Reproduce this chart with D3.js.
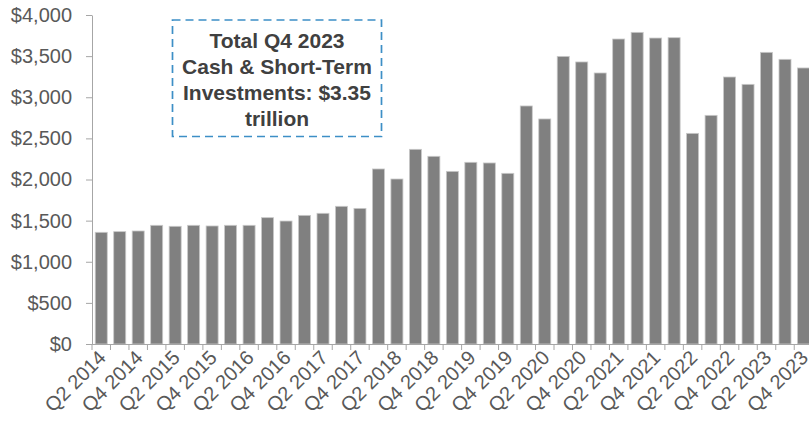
<!DOCTYPE html>
<html lang="en">
<head>
<meta charset="utf-8">
<style>
    html, body { margin:0; padding:0; overflow:hidden; background:#fff; }
    svg { display:block; font-family: "Liberation Sans", Arial, sans-serif; }
    .axis path, .axis line { stroke: #a6a6a6; }
    .axis text { fill: #595959; font-size: 20px; }
    .note { fill: #404040; font-size: 21px; font-weight: bold; }
</style>
</head>
<body>
<svg width="809" height="422"></svg>
<script src="https://d3js.org/d3.v7.min.js"></script>
<script>
    // quarters shown, Q2 2014 .. Q4 2023
    var quarters = [];
    for (var yr = 2014; yr <= 2023; yr++) {
        for (var q = 1; q <= 4; q++) {
            if (yr == 2014 && q == 1) continue;
            quarters.push("Q" + q + " " + yr);
        }
    }

    // cash & short-term investments, $ billions
    var cash = [1358, 1366, 1374, 1443, 1431, 1443, 1435, 1443, 1443, 1536,
                1495, 1564, 1589, 1674, 1649, 2128, 2006, 2367, 2282, 2099,
                2209, 2201, 2075, 2894, 2736, 3497, 3429, 3295, 3708, 3789,
                3720, 3724, 2561, 2780, 3246, 3157, 3546, 3461, 3356];

    var yTicks = [0, 500, 1000, 1500, 2000, 2500, 3000, 3500, 4000];

    var noteLines = ["Total Q4 2023", "Cash & Short-Term", "Investments: $3.35", "trillion"];

    var svg = d3.select("svg");

    var plotLeft = 92, step = 18.48, plotBottom = 344, plotTop = 15;

    var x = d3.scaleBand()
        .domain(quarters)
        .range([plotLeft, plotLeft + step * quarters.length])
        .paddingInner(0.35)
        .paddingOuter(0.175);

    var y = d3.scaleLinear()
        .domain([0, 4000])
        .range([plotBottom, plotTop]);

    // bars
    svg.append("g").selectAll("rect")
        .data(cash)
        .join("rect")
        .attr("x", function (d, i) { return x(quarters[i]); })
        .attr("y", function (d) { return y(d); })
        .attr("width", x.bandwidth())
        .attr("height", function (d) { return y(0) - y(d); })
        .attr("fill", "#808080")
        .attr("stroke", "#c9c9c9")
        .attr("stroke-width", 0.8);

    // y axis
    svg.append("g")
        .attr("class", "axis")
        .attr("transform", "translate(" + plotLeft + ",0)")
        .call(d3.axisLeft(y)
            .tickValues(yTicks)
            .tickSize(6)
            .tickPadding(14)
            .tickSizeOuter(0)
            .tickFormat(function (d) { return "$" + d3.format(",")(d); }));

    // x axis: labels on every other quarter, ticks between quarters
    var labelled = quarters.filter(function (d, i) { return i % 2 == 0; });

    var xAxis = svg.append("g")
        .attr("class", "axis")
        .attr("transform", "translate(0," + plotBottom + ")")
        .call(d3.axisBottom(x)
            .tickValues(labelled)
            .tickSize(0)
            .tickSizeOuter(0));

    xAxis.select(".domain").attr("d", "M" + plotLeft + ",0.5H" + (plotLeft + step * quarters.length));

    xAxis.selectAll(".tick text")
        .attr("text-anchor", "end")
        .attr("dy", null)
        .attr("y", 0)
        .attr("transform", "translate(6,15) rotate(-45)");

    xAxis.selectAll(".boundary")
        .data(d3.range(quarters.length + 1))
        .join("line")
        .attr("class", "boundary")
        .attr("x1", function (i) { return plotLeft + i * step; })
        .attr("x2", function (i) { return plotLeft + i * step; })
        .attr("y1", 0)
        .attr("y2", 6);

    // callout box
    var note = svg.append("g");

    note.append("rect")
        .attr("x", 172.5)
        .attr("y", 20)
        .attr("width", 209)
        .attr("height", 116.5)
        .attr("fill", "none")
        .attr("stroke", "#3d8fc6")
        .attr("stroke-width", 1.7)
        .attr("stroke-dasharray", "8,5");

    note.selectAll("text")
        .data(noteLines)
        .join("text")
        .attr("class", "note")
        .attr("x", 277)
        .attr("y", function (d, i) { return 47.5 + i * 26; })
        .attr("text-anchor", "middle")
        .text(function (d) { return d; });
</script>
</body>
</html>
